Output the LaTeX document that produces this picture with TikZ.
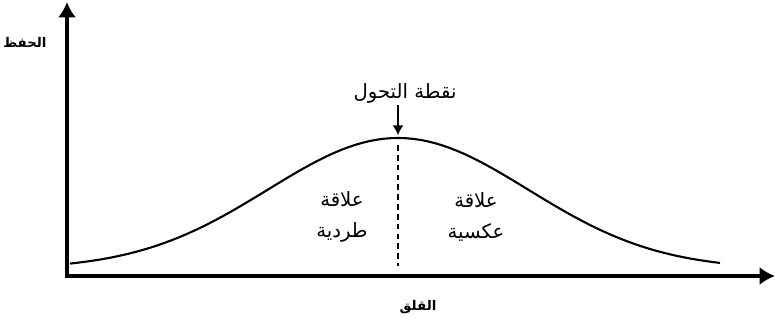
\documentclass[tikz,border=0pt]{standalone}
\usepackage{fontspec}
\newfontfamily\arabicfont[Script=Arabic]{DejaVu Sans}
\TeXXeTstate=1
\usetikzlibrary{arrows.meta, positioning}

\begin{document}
\begin{tikzpicture}[
    x=0.025cm, y=-0.025cm,
    axis/.style={line width=3.2pt, {Latex[length=11pt, width=13pt]}-{Latex[length=11pt, width=13pt]}},
    curve/.style={line width=1.5pt},
    divider/.style={line width=1.3pt, dash pattern=on 4pt off 3pt},
    axislabel/.style={font=\arabicfont\bfseries\fontsize{9.5}{11}\selectfont, inner sep=1pt},
    relabel/.style={font=\arabicfont\fontsize{14}{22}\selectfont, align=center, inner sep=1pt},
    pointer/.style={line width=1.5pt, -{Latex[length=7pt, width=8pt]}}
]
\useasboundingbox (0,0) rectangle (775,322);
\coordinate (origin) at (67,276);
\coordinate (ytop) at (67,2);
\coordinate (xend) at (775,276);
\coordinate (peak) at (398,138);
\coordinate (foot) at (398,266);
% axes
\draw[axis] (xend) -- (origin) -- (ytop);
\node[axislabel] (yname) at (25,42) {\beginR الحفظ\endR};
\node[axislabel] (xname) at (418,307) {\beginR القلق\endR};
% bell curve
\draw[curve] plot[domain=70:720, samples=90] (\x, {269-131*exp(-0.5*((\x-398)/130)^2)});
\draw[divider] ([yshift=-5pt]peak) -- (foot);
% labels
\node[relabel] (turn) at (405,93) {\beginR نقطة التحول\endR};
\draw[pointer] (turn.south -| peak) -- ([yshift=2pt]peak);
\node[relabel] (direct) at (342,217) {\beginR علاقة\endR\\\beginR طردية\endR};
\node[relabel] (inverse) at (476,217) {\beginR علاقة\endR\\\beginR عكسية\endR};
\end{tikzpicture}
\end{document}
